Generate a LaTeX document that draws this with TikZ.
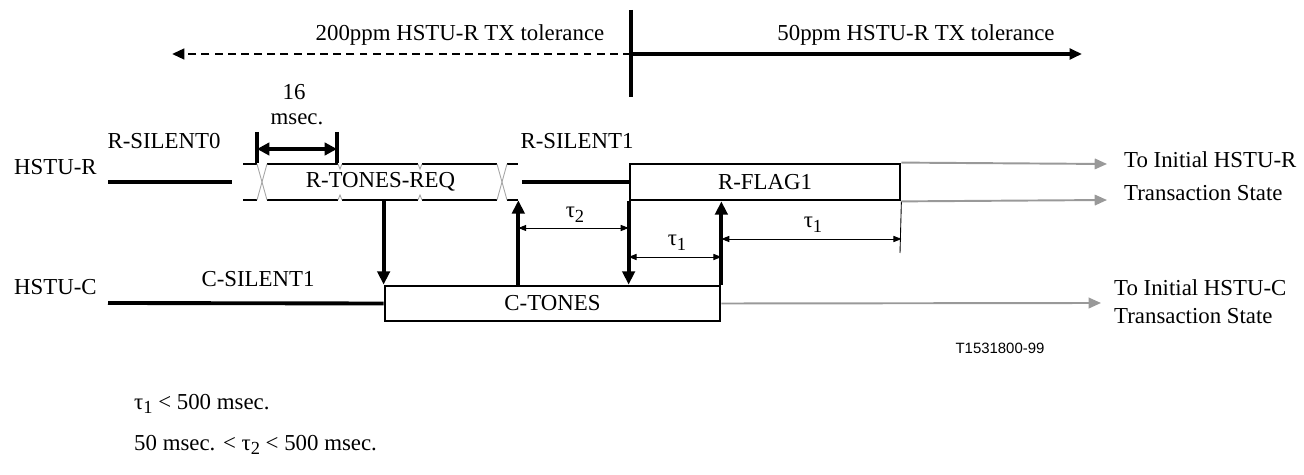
\documentclass[tikz,border=0pt]{standalone}
\usepackage{fontspec}
\setmainfont{Liberation Serif}
\newfontfamily\figsans{Liberation Sans}
\usetikzlibrary{arrows.meta,positioning}

\newcommand{\tausub}[1]{τ\raisebox{-0.45ex}{\fontsize{10.5}{10.5}\selectfont #1}}

\begin{document}
\begin{tikzpicture}[
    x=0.02cm, y=-0.02cm,
    font=\fontsize{13}{15}\selectfont,
    sigbox/.style={draw, line width=1.6pt, inner sep=0pt},
    thickline/.style={line width=2.2pt},
    bigarrow/.style={line width=2.2pt, -{Triangle[length=7.5pt,width=7pt]}},
    dimarrow/.style={line width=0.5pt, {Triangle[length=4.5pt,width=3.5pt]}-{Triangle[length=4.5pt,width=3.5pt]}},
    grayarrow/.style={draw=black!40, line width=1.1pt, -{Triangle[length=7pt,width=6pt]}},
    reqedge/.style={line width=1pt},
    xcross/.style={draw=black!35, line width=0.5pt}
]
    \useasboundingbox (0,0) rectangle (1304,475);

    % tolerance split
    \coordinate (split top) at (631,10);
    \coordinate (split bot) at (631,97);
    \coordinate (split) at (631,54);
    \coordinate (tol left) at (172,54);
    \coordinate (tol right) at (1082,54);
    \draw [line width=2pt] (split top) -- (split bot);
    \draw [line width=1.5pt, dash pattern=on 4.5pt off 3pt, -{Triangle[length=7pt,width=6pt]}] (split) -- (tol left);
    \draw [line width=2pt, -{Triangle[length=7pt,width=6pt]}] (split) -- (tol right);
    \node (tol200) at (460,35) {200ppm HSTU-R TX tolerance};
    \node (tol50) at (916,35) {50ppm HSTU-R TX tolerance};

    % signals
    \node (hstur) [anchor=west] at (8,167) {HSTU-R};
    \node (hstuc) [anchor=west] at (8,287) {HSTU-C};

    \node (rflag) [sigbox, minimum width=5.4cm, minimum height=0.72cm] at (765,182) {R-FLAG1};
    \node (ctones) [sigbox, minimum width=6.7cm, minimum height=0.7cm] at (552.5,303.5) {C-TONES};
    \node (rtones) [inner sep=0pt, minimum width=5.5cm, minimum height=0.72cm] at (380.5,182) {R-TONES-REQ};

    \foreach \a/\b in {243/257, 267/338, 342/418, 422/497, 507/518} {
        \draw [reqedge] (\a,164) -- (\b,164);
        \draw [reqedge] (\a,200) -- (\b,200);
    }
    \foreach \x in {262,502} {
        \draw [xcross] (\x-5,164) -- (\x+5,200);
        \draw [xcross] (\x+5,164) -- (\x-5,200);
    }
    \foreach \x in {340,420} {
        \draw [xcross] (\x-2,164) -- (\x,169) -- (\x+2,164);
        \draw [xcross] (\x-2,200) -- (\x,195) -- (\x+2,200);
    }

    \coordinate (r0 start) at (108,182);
    \coordinate (r0 end) at (232,182);
    \coordinate (r1 start) at (522,182);
    \coordinate (c1 start) at (108,303);
    \draw [thickline] (r0 start) -- (r0 end);
    \draw [thickline] (r1 start) -- (rflag.west);
    \draw [thickline] (c1 start) -- (ctones.west);

    \node (rsilent0) at (164,141) {R-SILENT0};
    \node (rsilent1) at (577,141) {R-SILENT1};
    \node (csilent1) at (258,279) {C-SILENT1};

    % 16 msec.
    \coordinate (m left) at (257,149);
    \coordinate (m right) at (337,149);
    \draw [line width=2pt] (257,132) -- (257,163);
    \draw [line width=2pt] (337,132) -- (337,163);
    \draw [line width=2.2pt, {Triangle[length=7pt,width=7pt]}-{Triangle[length=7pt,width=7pt]}] (m left) -- (m right);
    \node (sixteen) at (294,92) {16};
    \node (msec) at (297,119) {msec.};

    % handshake arrows
    \draw [bigarrow] (ctones.north west |- rtones.south) -- (ctones.north west);
    \draw [bigarrow] (ctones.north -| rtones.east) -- (rtones.south east);
    \draw [bigarrow] (rflag.south west) -- (rflag.south west |- ctones.north);
    \draw [bigarrow] (ctones.north east) -- (ctones.north east |- rflag.south);

    % timings
    \coordinate (t2) at (0,228);
    \coordinate (t1a) at (0,257);
    \coordinate (t1b) at (0,239);
    \coordinate (tick end) at (900,253);
    \draw [line width=0.5pt] (rflag.south east) -- (tick end);
    \draw [dimarrow] (t2 -| rtones.east) -- (t2 -| rflag.west);
    \draw [dimarrow] (t1a -| rflag.west) -- (t1a -| ctones.east);
    \draw [dimarrow] (t1b -| ctones.east) -- (t1b -| rflag.east);
    \node (tau2) at (575,215) {\tausub{2}};
    \node (tau1a) at (677,243) {\tausub{1}};
    \node (tau1b) at (813,225) {\tausub{1}};

    % next states
    \coordinate (to r top) at (1107,164);
    \coordinate (to r bot) at (1107,200);
    \coordinate (to c) at (1101,303);
    \draw [grayarrow] (rflag.north east) -- (to r top);
    \draw [grayarrow] (rflag.south east) -- (to r bot);
    \draw [grayarrow] (ctones.east) -- (to c);
    \node (nextr1) [anchor=west] at (1118,160) {To Initial HSTU-R};
    \node (nextr2) [anchor=west] at (1118,193) {Transaction State};
    \node (nextc1) [anchor=west] at (1108,288) {To Initial HSTU-C};
    \node (nextc2) [anchor=west] at (1108,316) {Transaction State};

    \node (figid) at (1000,348) {\figsans\fontsize{8.5}{10}\selectfont T1531800-99};

    % conditions
    \node (cond1) [anchor=west] at (128,404) {\tausub{1} < 500 msec.};
    \node (cond2) [anchor=west] at (128,445) {50 msec. < \tausub{2} < 500 msec.};
\end{tikzpicture}
\end{document}
